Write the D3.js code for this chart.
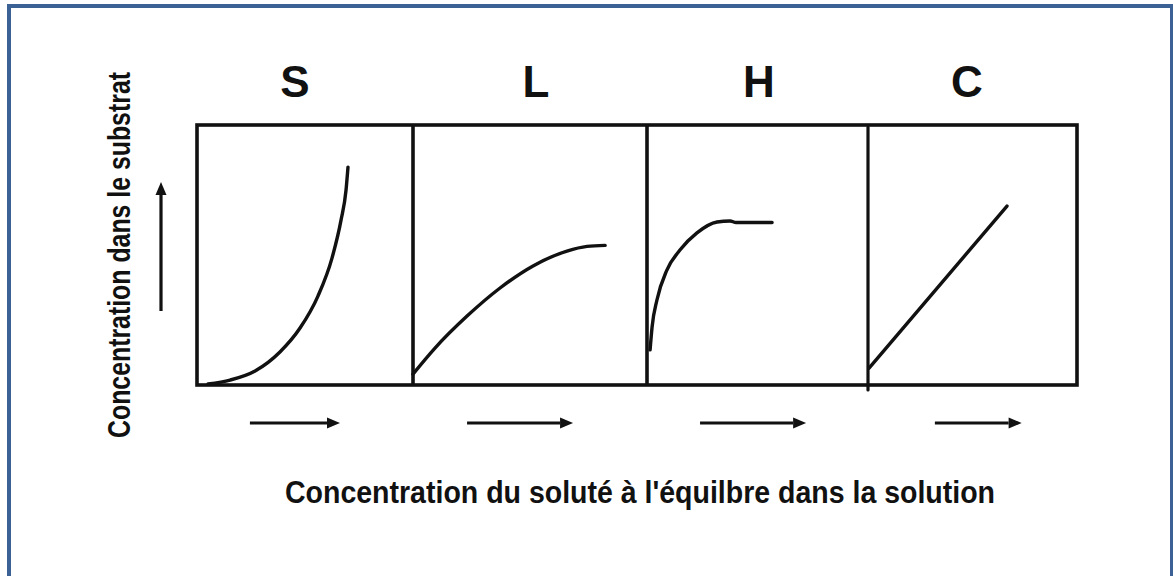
<!DOCTYPE html>
<html>
<head>
<meta charset="utf-8">
<script src="https://cdn.jsdelivr.net/npm/d3@7"></script>
<style>
  html, body { margin: 0; padding: 0; background: #fff; }
  svg { display: block; }
  text { font-family: "Liberation Sans", Arial, sans-serif; font-weight: bold; fill: #111; }
</style>
</head>
<body>
<svg id="chart" width="1173" height="576"></svg>
<script>
// Isotherm classes shown side by side
const categories = ["S", "L", "H", "C"];

// Schematic adsorption curves, concentration on a 0–100 scale
// [solute concentration at equilibrium, concentration in the substrate]
const seriesS = [[5.1, 0.4], [15.3, 1.9], [26.9, 5.4], [38.4, 12.7], [47.7, 21.9], [56, 34.2], [62.5, 48.8], [66.7, 63.5], [69, 75], [69.9, 83.8]];
const seriesL = [[0, 4.2], [9.4, 14.2], [23.1, 26.5], [37.2, 37.3], [51.3, 45.8], [65.8, 51.5], [74.4, 53.3], [82.1, 53.7]];
const seriesH = [[1.4, 13.5], [2.3, 22.3], [4.5, 32.7], [9, 44.2], [14.9, 51.9], [22.6, 58.5], [31.7, 62.7], [37.6, 63.1], [40.3, 62.5], [56.6, 62.5]];
const seriesC = [[0.5, 6.5], [66.5, 68.8]];
const seriesList = [seriesS, seriesL, seriesH, seriesC];

const yAxisLabel = "Concentration dans le substrat";
const xAxisLabel = "Concentration du soluté à l'équilbre dans la solution";

const svg = d3.select("#chart");
const ink = "#111";

// Page frame
const frame = "#3c6194";
svg.append("line").attr("x1", 9).attr("x2", 9).attr("y1", 4).attr("y2", 576)
  .attr("stroke", frame).attr("stroke-width", 4);
svg.append("line").attr("x1", 7).attr("x2", 1173).attr("y1", 6).attr("y2", 6)
  .attr("stroke", frame).attr("stroke-width", 4);
svg.append("line").attr("x1", 1171.5).attr("x2", 1171.5).attr("y1", 4).attr("y2", 576)
  .attr("stroke", frame).attr("stroke-width", 3);

// Panel layout
const panelEdges = [197, 413, 647, 868, 1077];
const boxTop = 125, boxBottom = 385;
const y = d3.scaleLinear().domain([0, 100]).range([boxBottom, boxTop]);
const xScales = categories.map((c, i) =>
  d3.scaleLinear().domain([0, 100]).range([panelEdges[i], panelEdges[i + 1]]));

// Outer box and the two inner dividers
svg.append("rect")
  .attr("x", panelEdges[0]).attr("y", boxTop)
  .attr("width", panelEdges[4] - panelEdges[0]).attr("height", boxBottom - boxTop)
  .attr("fill", "none").attr("stroke", ink).attr("stroke-width", 3.6);
[1, 2].forEach(i => {
  svg.append("line")
    .attr("x1", panelEdges[i]).attr("x2", panelEdges[i])
    .attr("y1", boxTop).attr("y2", boxBottom)
    .attr("stroke", ink).attr("stroke-width", 3.6);
});
// The C panel's ordinate is drawn as its own axis line
svg.append("line")
  .attr("x1", panelEdges[3]).attr("x2", panelEdges[3])
  .attr("y1", boxTop + 2).attr("y2", boxBottom + 5)
  .attr("stroke", ink).attr("stroke-width", 3.2).attr("stroke-linecap", "round");

// Curves
categories.forEach((c, i) => {
  const x = xScales[i];
  const line = d3.line()
    .x(d => x(d[0])).y(d => y(d[1]))
    .curve(d3.curveMonotoneX);
  svg.append("path")
    .datum(seriesList[i])
    .attr("d", line)
    .attr("fill", "none")
    .attr("stroke", ink)
    .attr("stroke-width", 3.4)
    .attr("stroke-linecap", "round")
    .attr("stroke-linejoin", "round");
});

// Class letters above each panel
const letterX = [295, 536, 759, 967];
svg.selectAll("text.cls")
  .data(categories)
  .join("text")
  .attr("class", "cls")
  .attr("x", (d, i) => letterX[i])
  .attr("y", 97)
  .attr("text-anchor", "middle")
  .attr("font-size", 44)
  .text(d => d);

// Arrows
function arrow(x1, y1, x2, y2) {
  const ang = Math.atan2(y2 - y1, x2 - x1);
  const len = 13, half = 5.5;
  const bx = x2 - len * Math.cos(ang), by = y2 - len * Math.sin(ang);
  svg.append("line")
    .attr("x1", x1).attr("y1", y1).attr("x2", bx).attr("y2", by)
    .attr("stroke", ink).attr("stroke-width", 3.2);
  const px = -Math.sin(ang) * half, py = Math.cos(ang) * half;
  svg.append("path")
    .attr("d", `M${x2},${y2}L${bx + px},${by + py}L${bx - px},${by - py}Z`)
    .attr("fill", ink);
}
const arrowSpans = [[24.5, 66.2], [23.1, 68.4], [24, 72], [32, 73.5]];
arrowSpans.forEach((s, i) => {
  arrow(xScales[i](s[0]), 423, xScales[i](s[1]), 423);
});
arrow(161, 311, 161, 182);

// Axis titles
svg.append("text")
  .attr("transform", "translate(130,255) rotate(-90)")
  .attr("text-anchor", "middle")
  .attr("font-size", 31)
  .attr("textLength", 366)
  .attr("lengthAdjust", "spacingAndGlyphs")
  .text(yAxisLabel);

svg.append("text")
  .attr("x", 640).attr("y", 503)
  .attr("text-anchor", "middle")
  .attr("font-size", 31)
  .attr("textLength", 710)
  .attr("lengthAdjust", "spacingAndGlyphs")
  .text(xAxisLabel);
</script>
</body>
</html>
